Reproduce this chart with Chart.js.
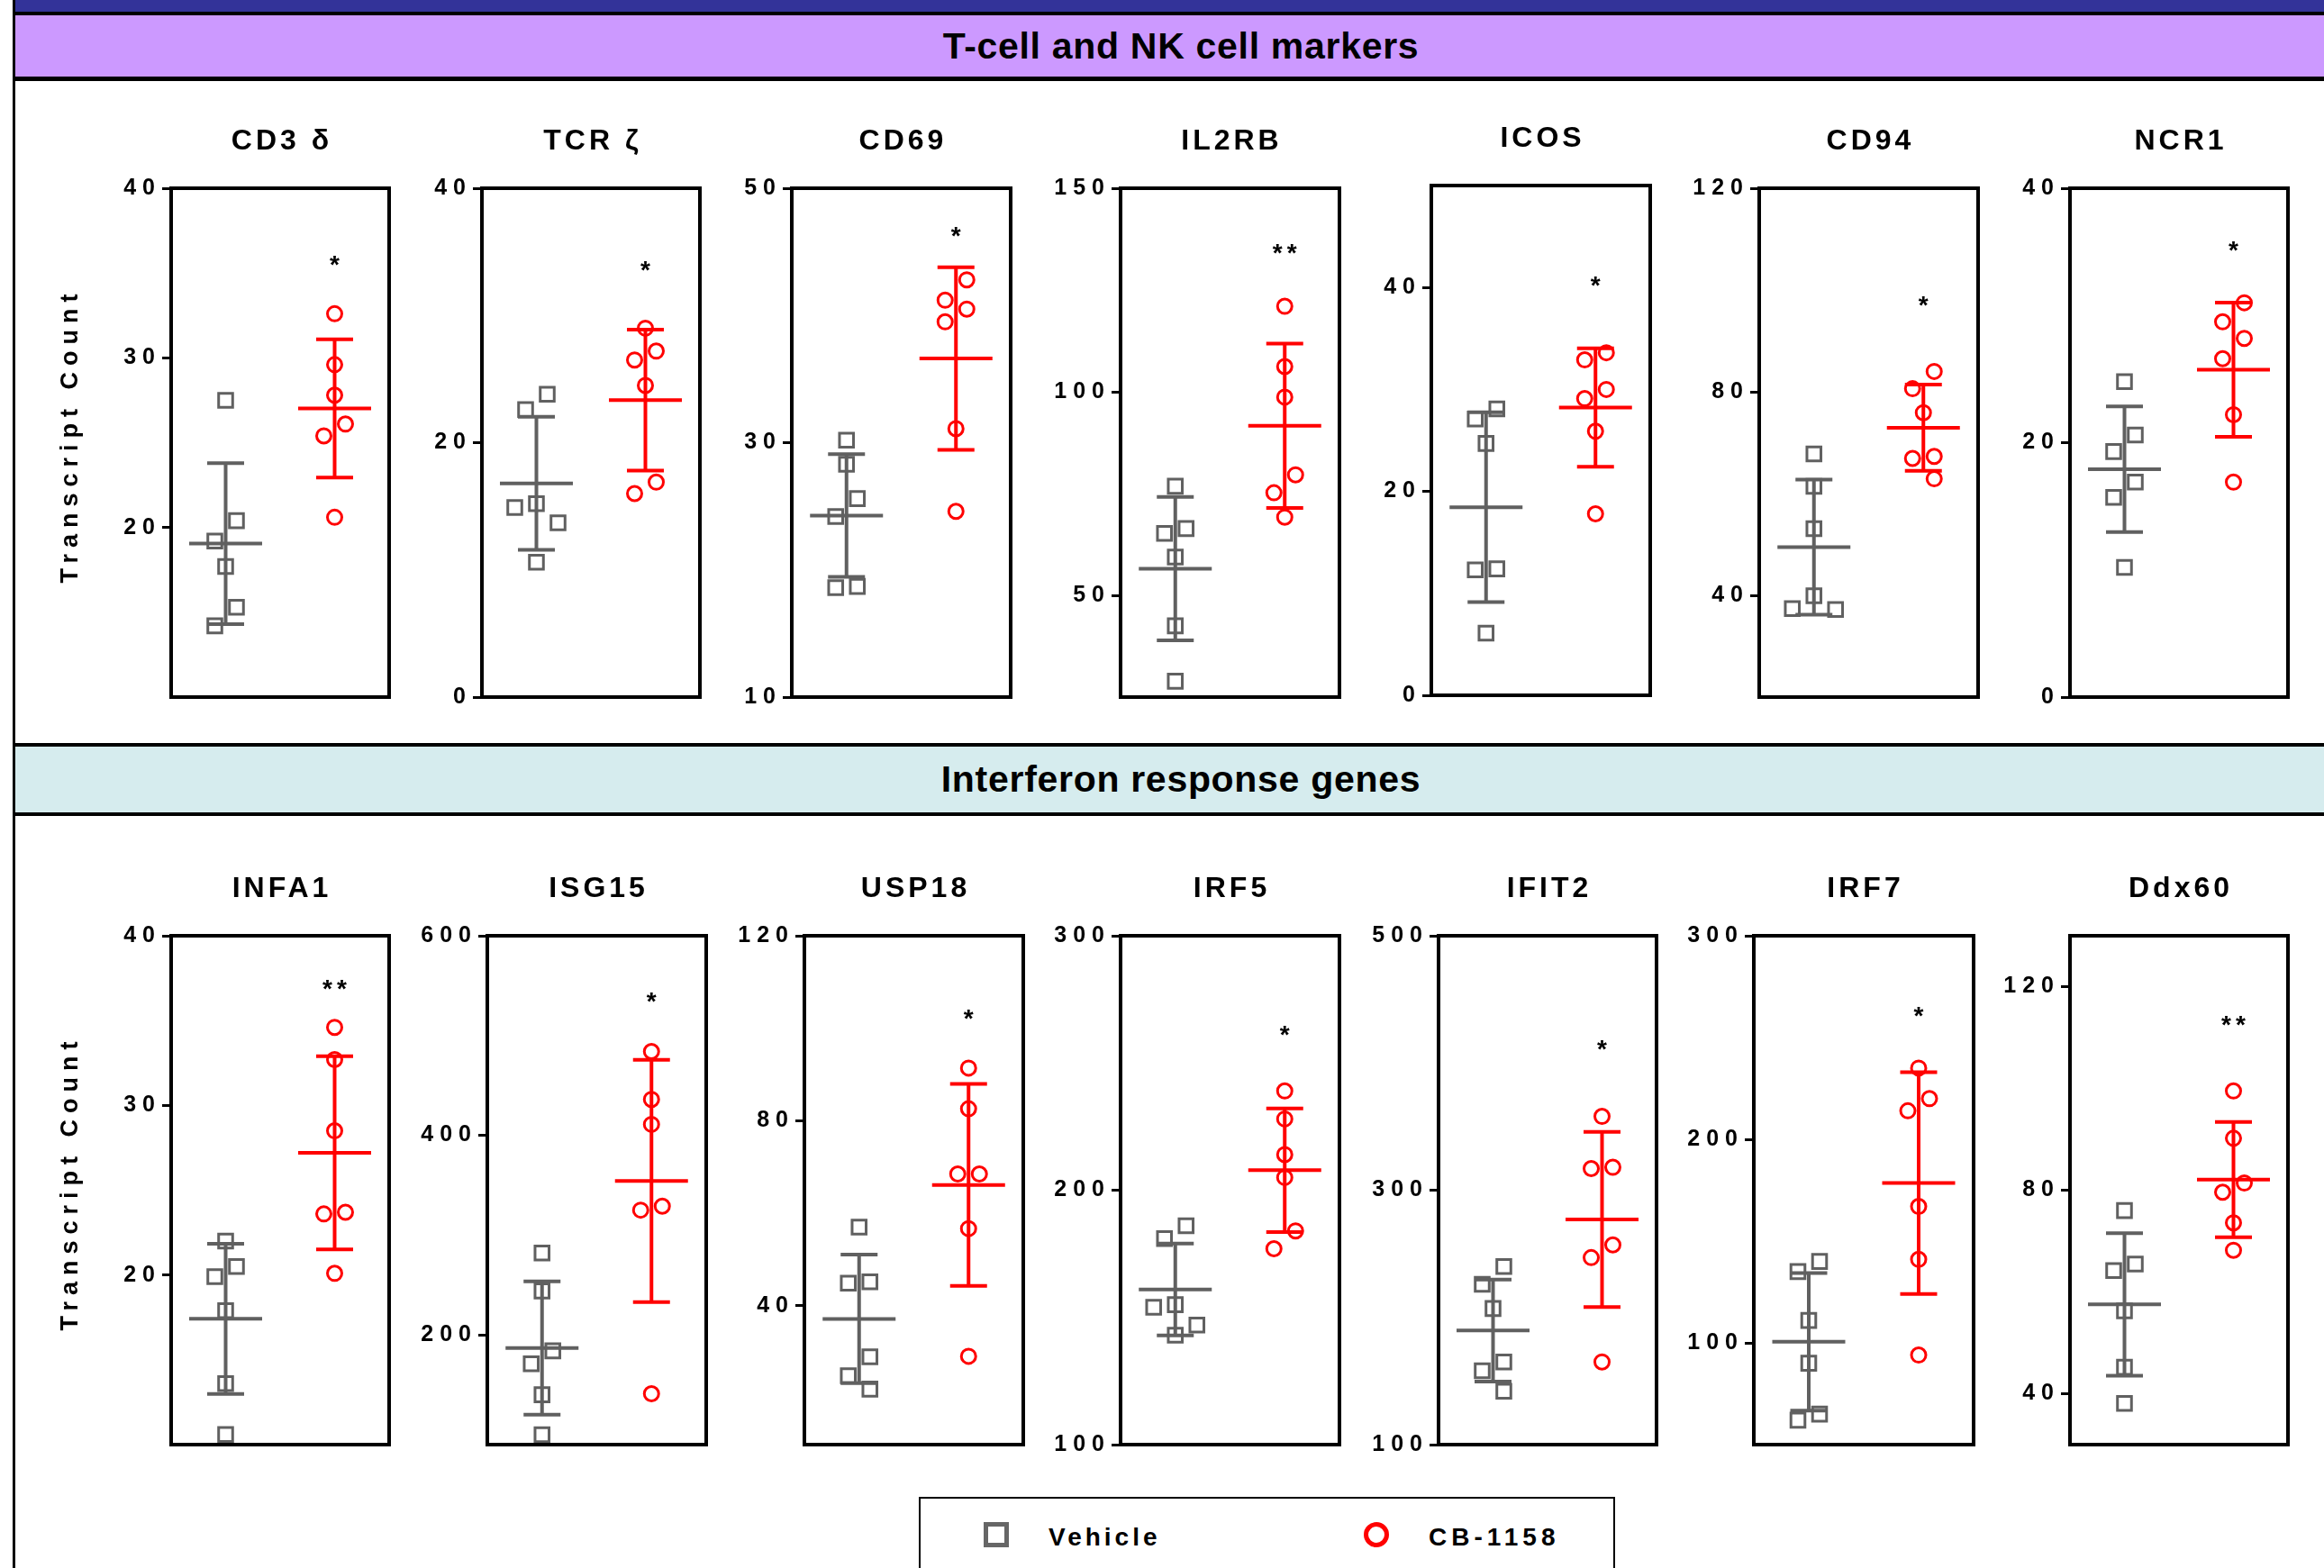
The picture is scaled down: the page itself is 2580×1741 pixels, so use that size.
<!DOCTYPE html>
<html>
<head>
<meta charset="utf-8">
<script src="https://cdn.jsdelivr.net/npm/chart.js@4.4.1/dist/chart.umd.min.js"></script>
<style>
  body { margin: 0; width: 2580px; height: 1741px; overflow: hidden; background: #fff; position: relative;
         font-family: "Liberation Sans", Arial, sans-serif; }
  .abs { position: absolute; }
  .band-text { position: absolute; transform: translateX(-50%); font-weight: bold; font-size: 41px;
               letter-spacing: 0.7px; white-space: nowrap; color: #000; }
  .leg-text { position: absolute; font-weight: bold; font-size: 28px; line-height: 28px; white-space: nowrap; color: #000; }
  canvas { position: absolute; }
</style>
</head>
<body>
<!-- page frame and section bands -->
<div class="abs" style="left:14px;top:0;width:3px;height:1741px;background:#000"></div>
<div class="abs" style="left:17px;top:0;width:2563px;height:13px;background:#333399"></div>
<div class="abs" style="left:17px;top:13px;width:2563px;height:4px;background:#000"></div>
<div class="abs" style="left:17px;top:17px;width:2563px;height:68px;background:#cc99ff"></div>
<div class="abs" style="left:17px;top:85px;width:2563px;height:5px;background:#000"></div>
<div class="band-text" id="sec0" style="left:1311px;top:17px;line-height:68px"></div>

<div class="abs" style="left:17px;top:825px;width:2563px;height:4px;background:#000"></div>
<div class="abs" style="left:17px;top:829px;width:2563px;height:73px;background:#d6ecee"></div>
<div class="abs" style="left:17px;top:902px;width:2563px;height:4px;background:#000"></div>
<div class="band-text" id="sec1" style="left:1311px;top:829px;line-height:73px"></div>

<!-- legend -->
<div class="abs" style="left:1020px;top:1662px;width:773px;height:120px;border:2.5px solid #000;box-sizing:border-box"></div>
<div class="abs" style="left:1092px;top:1690px;width:28px;height:28px;border:5px solid #666;box-sizing:border-box"></div>
<div class="leg-text" id="leg0" style="left:1164px;top:1693px;letter-spacing:4px"></div>
<div class="abs" style="left:1514px;top:1690px;width:28px;height:28px;border:5px solid #ff0000;border-radius:50%;box-sizing:border-box"></div>
<div class="leg-text" id="leg1" style="left:1586px;top:1693px;letter-spacing:5px"></div>

<script>
// ---- data ----
const sections = ['T-cell and NK cell markers', 'Interferon response genes'];
const groups = ['Vehicle', 'CB-1158'];
const genes = ['CD3 δ', 'TCR ζ', 'CD69', 'IL2RB', 'ICOS', 'CD94', 'NCR1',
               'INFA1', 'ISG15', 'USP18', 'IRF5', 'IFIT2', 'IRF7', 'Ddx60'];

const vehicle = [
  [27.5, 20.4, 19.2, 17.7, 15.3, 14.2],
  [23.8, 22.6, 15.2, 14.9, 13.7, 10.6],
  [30.2, 28.3, 25.6, 24.2, 18.7, 18.6],
  [76.8, 66.4, 65.2, 59.4, 42.5, 28.9],
  [28.1, 27.1, 24.7, 12.4, 12.3, 6.1],
  [67.8, 61.4, 53.1, 39.9, 37.4, 37.2],
  [24.8, 20.6, 19.3, 16.9, 15.7, 10.2],
  [22.0, 20.5, 19.9, 17.9, 13.6, 10.6],
  [282, 244, 184, 171, 140, 100],
  [57.0, 45.2, 44.9, 29.0, 24.9, 22.0],
  [186, 181, 155, 154, 147, 143],
  [240, 226, 207, 165, 158, 142],
  [140, 135, 111, 90, 65, 62],
  [76.0, 65.5, 64.2, 56.3, 45.2, 38.1]
];
const cb1158 = [
  [32.6, 29.6, 27.8, 26.1, 25.4, 20.6],
  [29.0, 27.2, 26.5, 24.5, 16.9, 16.0],
  [42.8, 41.2, 40.5, 39.5, 31.1, 24.6],
  [121.0, 106.2, 98.7, 79.6, 75.2, 69.2],
  [33.6, 32.9, 30.0, 29.1, 25.9, 17.8],
  [84.0, 80.6, 75.9, 67.3, 66.9, 62.9],
  [31.0, 29.5, 28.2, 26.6, 22.2, 16.9],
  [34.6, 32.7, 28.5, 23.7, 23.6, 20.1],
  [484, 436, 411, 329, 325, 141],
  [91.4, 82.6, 68.5, 68.5, 56.7, 29.1],
  [239, 228, 214, 205, 184, 177],
  [358, 318, 317, 257, 247, 165],
  [235, 220, 214, 167, 141, 94],
  [99.5, 90.2, 81.4, 79.6, 73.6, 68.2]
];

const yMin = [10, 0, 10, 25, 0, 20, 0, 10, 90, 10, 100, 100, 50, 30];
const yMax = [40, 40, 50, 150, 50, 120, 40, 40, 600, 120, 300, 500, 300, 130];
const yTicks = [
  [20, 30, 40], [0, 20, 40], [10, 30, 50], [50, 100, 150], [0, 20, 40], [40, 80, 120], [0, 20, 40],
  [20, 30, 40], [200, 400, 600], [40, 80, 120], [100, 200, 300], [100, 300, 500], [100, 200, 300], [40, 80, 120]
];
const stars = ['*', '*', '*', '**', '*', '*', '*', '**', '*', '*', '*', '*', '*', '**'];
const starAt = [35.7, 33.9, 46.6, 135, 40.6, 97.7, 35.4, 37.1, 538, 103, 262.5, 414, 262.8, 113.3];
const yTitle = 'Transcript Count';

// ---- layout (page pixels) ----
const frameLeft  = [190, 535, 879, 1244, 1589, 1953, 2298, 190, 541, 893, 1244, 1597, 1947, 2298];
const frameRight = [432, 777, 1122, 1487, 1832, 2196, 2540, 432, 784, 1136, 1487, 1839, 2191, 2540];
const frameTop    = [209, 209, 209, 209, 206, 209, 209, 1039, 1039, 1039, 1039, 1039, 1039, 1039];
const frameBottom = [774, 774, 774, 774, 772, 774, 774, 1604, 1604, 1604, 1604, 1604, 1604, 1604];
const PAD_L = 150, PAD_T = 100, PAD_R = 20, PAD_B = 20;
const FONT = '"Liberation Sans", Arial, sans-serif';
const GREY = '#606060', RED = '#ff0000';

document.getElementById('sec0').textContent = sections[0];
document.getElementById('sec1').textContent = sections[1];
document.getElementById('leg0').textContent = groups[0];
document.getElementById('leg1').textContent = groups[1];

function mean(a) { return a.reduce((s, v) => s + v, 0) / a.length; }
function sd(a) {
  const m = mean(a);
  return Math.sqrt(a.reduce((s, v) => s + (v - m) * (v - m), 0) / (a.length - 1));
}

// spread points that would overlap into side-by-side columns (pixel offsets)
function spread(vals, pxPerUnit) {
  const gap = 24, step = 24;
  const order = vals.map((_, i) => i).sort((a, b) => vals[b] - vals[a]);
  const col = new Array(vals.length).fill(0);
  const placed = [];
  const cands = [0, -1, 1, -2, 2, -3, 3];
  for (const i of order) {
    const y = vals[i] * pxPerUnit;
    const c = cands.find(k => placed.every(p => p.c !== k || Math.abs(p.y - y) >= gap));
    col[i] = c;
    placed.push({ c, y });
  }
  let start = 0;
  for (let k = 1; k <= order.length; k++) {
    if (k === order.length || (vals[order[k - 1]] - vals[order[k]]) * pxPerUnit >= gap) {
      const members = order.slice(start, k);
      const cs = members.map(i => col[i]);
      const shift = -(Math.min(...cs) + Math.max(...cs)) / 2;
      members.forEach(i => { col[i] += shift; });
      start = k;
    }
  }
  return col.map(c => c * step);
}

function centerText(ctx, text, x, yc) {
  const m = ctx.measureText(text);
  const base = yc - (m.actualBoundingBoxDescent - m.actualBoundingBoxAscent) / 2;
  ctx.fillText(text, x, base);
}

const panelPlugin = {
  id: 'panel',
  beforeDraw(chart) {
    chart.ctx.letterSpacing = '7px';
  },
  afterDatasetsDraw(chart, args, o) {
    const ctx = chart.ctx, xs = chart.scales.x, ys = chart.scales.y;
    [vehicle[o.i], cb1158[o.i]].forEach((vals, g) => {
      const m = mean(vals), s = sd(vals);
      const cx = xs.getPixelForValue(g + 0.5);
      const yM = ys.getPixelForValue(m), yT = ys.getPixelForValue(m + s), yB = ys.getPixelForValue(m - s);
      ctx.save();
      ctx.strokeStyle = g ? RED : GREY;
      ctx.lineWidth = 4;
      ctx.beginPath();
      ctx.moveTo(cx - 40.5, yM); ctx.lineTo(cx + 40.5, yM);
      ctx.moveTo(cx, yT); ctx.lineTo(cx, yB);
      ctx.moveTo(cx - 20.5, yT); ctx.lineTo(cx + 20.5, yT);
      ctx.moveTo(cx - 20.5, yB); ctx.lineTo(cx + 20.5, yB);
      ctx.stroke();
      ctx.restore();
    });
  },
  afterDraw(chart, args, o) {
    const ctx = chart.ctx, ca = chart.chartArea, xs = chart.scales.x, ys = chart.scales.y;
    ctx.save();
    ctx.strokeStyle = '#000';
    ctx.lineWidth = 4;
    ctx.strokeRect(ca.left, ca.top, ca.right - ca.left, ca.bottom - ca.top);

    ctx.fillStyle = '#000';
    ctx.textAlign = 'center';
    ctx.textBaseline = 'alphabetic';
    // panel title
    ctx.font = 'bold 32px ' + FONT;
    ctx.letterSpacing = '4px';
    ctx.fillText(genes[o.i], (ca.left + ca.right) / 2 + 2, ca.top - 43);
    // significance
    ctx.font = 'bold 28px ' + FONT;
    ctx.letterSpacing = '5px';
    centerText(ctx, stars[o.i], xs.getPixelForValue(1.5) + 2.5, ys.getPixelForValue(starAt[o.i]));
    // y title on first panel of each row
    if (o.i % 7 === 0) {
      ctx.font = 'bold 27px ' + FONT;
      ctx.letterSpacing = '7px';
      ctx.translate(79 - o.cl, (ca.top + ca.bottom) / 2 - 4.5);
      ctx.rotate(-Math.PI / 2);
      ctx.fillText(yTitle, 3.5, 6.8);
    }
    ctx.restore();
  }
};

genes.forEach((gene, i) => {
  const fw = frameRight[i] - frameLeft[i], fh = frameBottom[i] - frameTop[i];
  const cl = frameLeft[i] - PAD_L, ct = frameTop[i] - PAD_T;
  const cv = document.createElement('canvas');
  cv.width = fw + PAD_L + PAD_R;
  cv.height = fh + PAD_T + PAD_B;
  cv.style.left = cl + 'px';
  cv.style.top = ct + 'px';
  document.body.appendChild(cv);

  const pxPerUnit = fh / (yMax[i] - yMin[i]);
  const toPoints = (vals, g) => {
    const off = spread(vals, pxPerUnit);
    return vals.map((v, k) => ({ x: g + 0.5 + off[k] * 2 / fw, y: v }));
  };

  new Chart(cv, {
    type: 'scatter',
    data: {
      datasets: [
        { label: groups[0], data: toPoints(vehicle[i], 0), pointStyle: 'rect', pointRadius: 11,
          borderColor: GREY, backgroundColor: 'rgba(0,0,0,0)', pointBorderWidth: 3, clip: false },
        { label: groups[1], data: toPoints(cb1158[i], 1), pointStyle: 'circle', pointRadius: 8,
          borderColor: RED, backgroundColor: 'rgba(0,0,0,0)', pointBorderWidth: 3, clip: false }
      ]
    },
    options: {
      responsive: false,
      animation: false,
      events: [],
      layout: { padding: { left: 0, top: PAD_T, right: PAD_R, bottom: PAD_B } },
      plugins: { legend: { display: false }, tooltip: { enabled: false }, panel: { i, cl } },
      scales: {
        x: { type: 'linear', display: false, min: 0, max: 2 },
        y: {
          min: yMin[i], max: yMax[i],
          afterFit: s => { s.width = PAD_L; },
          afterBuildTicks: s => { s.ticks = yTicks[i].map(v => ({ value: v })); },
          grid: { drawOnChartArea: false, drawTicks: true, tickLength: 10, tickWidth: 3, tickColor: '#000' },
          border: { display: false },
          ticks: { color: '#000', padding: 1, font: { family: FONT, size: 25, weight: 'bold' } }
        }
      }
    },
    plugins: [panelPlugin]
  });
});
</script>
</body>
</html>
